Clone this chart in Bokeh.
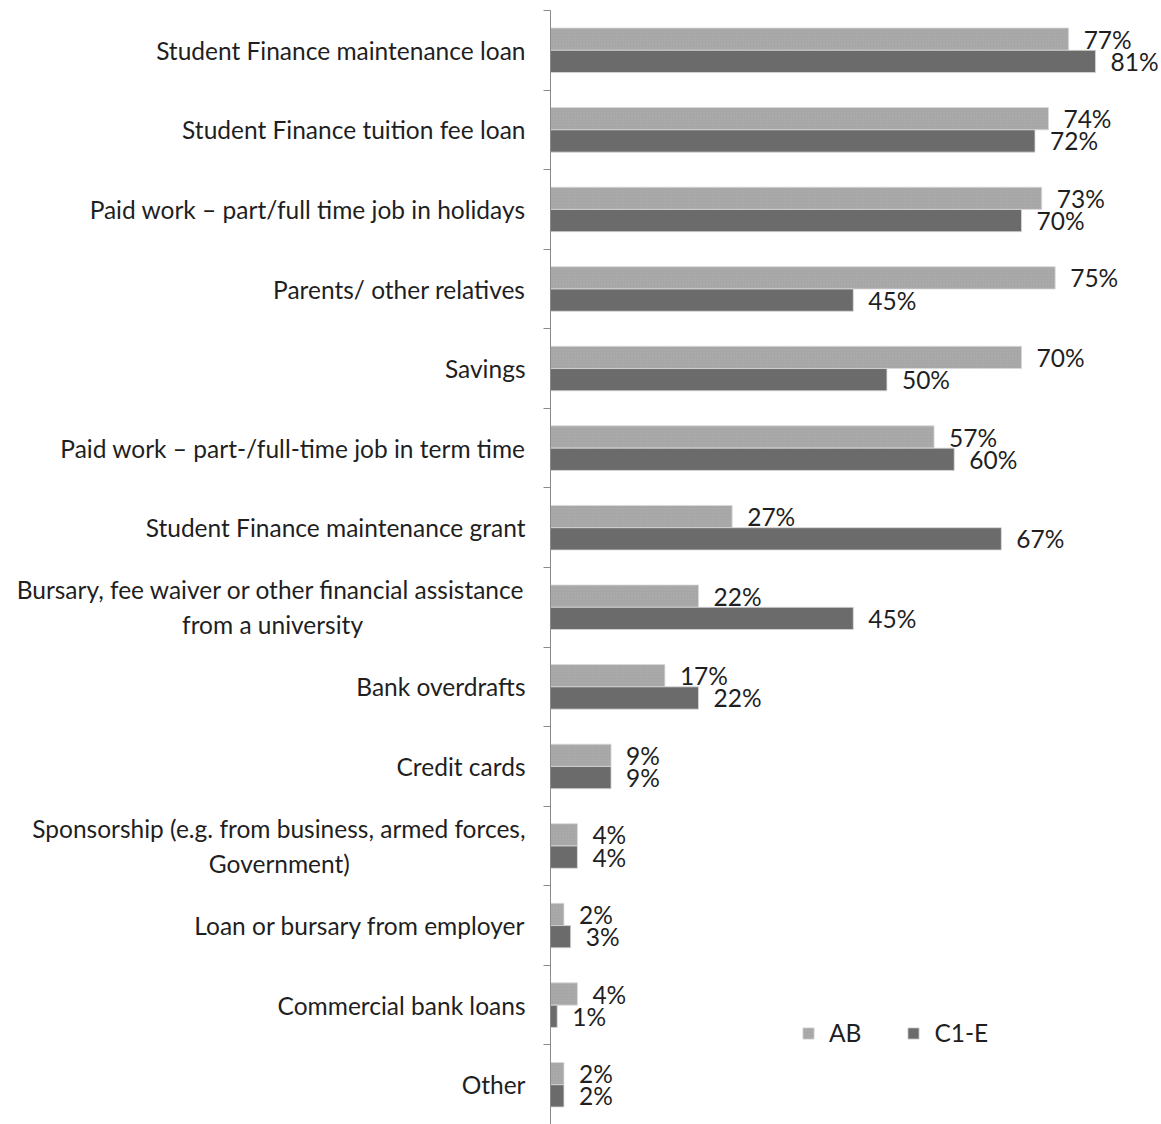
from bokeh.plotting import figure
from bokeh.models import (ColumnDataSource, LabelSet, Range1d, FixedTicker, Legend, LegendItem)
from bokeh.core.properties import value
from bokeh.embed import file_html
from bokeh.resources import INLINE

categories = [
    "Student Finance maintenance loan",
    "Student Finance tuition fee loan",
    "Paid work \u2013 part/full time job in holidays",
    "Parents/ other relatives",
    "Savings",
    "Paid work \u2013 part-/full-time job in term time",
    "Student Finance maintenance grant",
    "Bursary, fee waiver or other financial assistance\nfrom a university",
    "Bank overdrafts",
    "Credit cards",
    "Sponsorship (e.g. from business, armed forces,\nGovernment)",
    "Loan or bursary from employer",
    "Commercial bank loans",
    "Other",
]
ab_values = [77, 74, 73, 75, 70, 57, 27, 22, 17, 9, 4, 2, 4, 2]
c1e_values = [81, 72, 70, 45, 50, 60, 67, 45, 22, 9, 4, 3, 1, 2]
series_names = ["AB", "C1-E"]

FONT = "Lato"
FS = "24.5px"
TXT = "#1f1f1f"
AB_COL = "#a6a6a6"
C1E_COL = "#6b6b6b"


def centre_lines(label):
    # right-aligned axis labels: pad shorter lines so that they look centred
    lines = label.split("\n")
    if len(lines) == 1:
        return label
    longest = max(len(l) for l in lines)
    return "\n".join(l + "\u00a0" * int(round((longest - len(l)) * 0.8)) for l in lines)


n = len(categories)
centers = [i + 0.5 for i in range(n)]
off = 0.14
bh = 0.28

src = ColumnDataSource(dict(
    yc=centers,
    y_ab=[c - off for c in centers],
    y_c1=[c + off for c in centers],
    ab=ab_values,
    c1=c1e_values,
    ab_lbl=[f"{v}%" for v in ab_values],
    c1_lbl=[f"{v}%" for v in c1e_values],
))

p = figure(width=1161, height=1124, output_backend="svg", toolbar_location=None,
           x_range=Range1d(0, 90.8), y_range=Range1d(n, 0),
           x_axis_location=None, min_border_left=550, min_border_right=0,
           min_border_top=10, min_border_bottom=0)
p.outline_line_color = None
p.grid.visible = False
p.background_fill_color = "white"

r_ab = p.hbar(y="y_ab", left=0, right="ab", height=bh, source=src,
              fill_color=AB_COL, line_color="#dadada", line_width=0.8,
              hatch_pattern="dot", hatch_color="#b4b4b4", hatch_alpha=0.7,
              hatch_scale=3, hatch_weight=1)
r_c1 = p.hbar(y="y_c1", left=0, right="c1", height=bh, source=src,
              fill_color=C1E_COL, line_color="#dadada", line_width=0.8)

ax = p.yaxis[0]
ax.ticker = FixedTicker(ticks=centers, minor_ticks=list(range(n + 1)))
ax.major_label_overrides = {c: centre_lines(lab) for c, lab in zip(centers, categories)}
ax.major_label_text_font = FONT
ax.major_label_text_font_size = FS
ax.major_label_text_color = TXT
ax.major_label_standoff = 18
ax.major_tick_in = 0
ax.major_tick_out = 0
ax.major_tick_line_color = None
ax.minor_tick_in = 0
ax.minor_tick_out = 7
ax.minor_tick_line_color = "#8a8a8a"
ax.axis_line_color = "#8a8a8a"

ab_labels = LabelSet(x="ab", y="y_ab", text="ab_lbl", source=src, x_offset=15,
                     text_align="left", text_baseline="middle",
                     text_font=value(FONT), text_font_size=value(FS), text_color=TXT)
c1_labels = LabelSet(x="c1", y="y_c1", text="c1_lbl", source=src, x_offset=15,
                     text_align="left", text_baseline="middle",
                     text_font=value(FONT), text_font_size=value(FS), text_color=TXT)
p.add_layout(ab_labels)
p.add_layout(c1_labels)

legend = Legend(items=[LegendItem(label=series_names[0], renderers=[r_ab]),
                       LegendItem(label=series_names[1], renderers=[r_c1])],
                orientation="horizontal", location=(251, 77),
                glyph_width=14, glyph_height=14, label_standoff=14, spacing=45,
                label_text_font=FONT, label_text_font_size=FS, label_text_color=TXT,
                border_line_color=None, background_fill_alpha=0, padding=4, margin=0)
p.add_layout(legend)

open("out.html", "w").write(file_html(p, INLINE))
